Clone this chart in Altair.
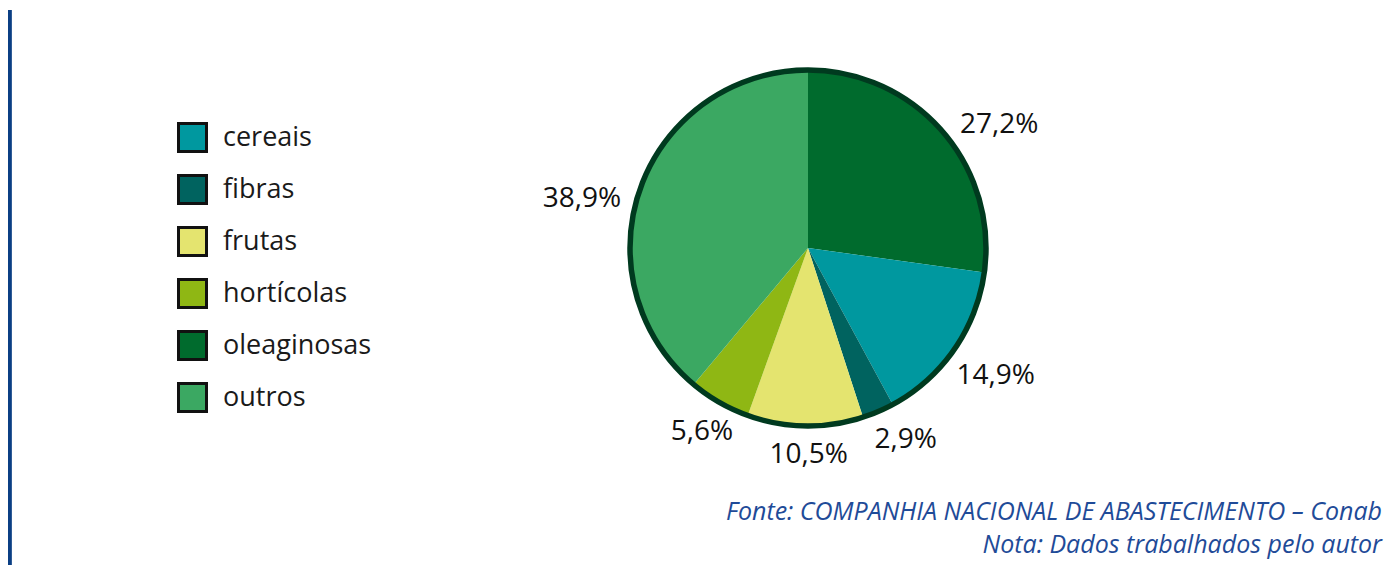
import math
import altair as alt
import pandas as pd

categories = ["oleaginosas", "cereais", "fibras", "frutas", "hortícolas", "outros"]
values = [27.2, 14.9, 2.9, 10.5, 5.6, 38.9]
legend_order = ["cereais", "fibras", "frutas", "hortícolas", "oleaginosas", "outros"]
colors = {"cereais": "#00989f", "fibras": "#00635f", "frutas": "#e4e46f",
          "hortícolas": "#8fb714", "oleaginosas": "#006b2d", "outros": "#3ba862"}
source_lines = ["Fonte: COMPANHIA NACIONAL DE ABASTECIMENTO – Conab",
                "Nota: Dados trabalhados pelo autor"]

labels = [f"{v:.1f}".replace(".", ",") + "%" for v in values]
df = pd.DataFrame({"cat": categories, "value": values, "ord": list(range(len(values))), "label": labels})

W, H = 1381, 557
CX, CY, R = 800, 240, 178
theta_scale = alt.Scale(domain=[0, 100], range=[0, 2 * math.pi])

pie = alt.Chart(df).mark_arc(radius=R, stroke=None).encode(
    x=alt.value(CX), y=alt.value(CY),
    theta=alt.Theta("value:Q", stack=True, scale=theta_scale),
    order=alt.Order("ord:Q"),
    color=alt.Color("cat:N",
                    scale=alt.Scale(domain=legend_order, range=[colors[c] for c in legend_order]),
                    legend=alt.Legend(title=None, orient="none", legendX=169, legendY=114,
                                      symbolType="square", symbolSize=784,
                                      symbolStrokeColor="#111111", symbolStrokeWidth=3,
                                      symbolOpacity=1, labelFont="Open Sans", labelFontSize=27,
                                      labelColor="#1a1a1a", rowPadding=11, labelOffset=15,
                                      padding=0)),
)

outline = alt.Chart(df.head(1)).mark_arc(radius=R, fillOpacity=0, stroke="#003a1f", strokeWidth=5.5).encode(
    x=alt.value(CX), y=alt.value(CY),
    theta=alt.value(0), theta2=alt.value(2 * math.pi),
)

offsets = {"oleaginosas": (29, 18), "cereais": (11, 5), "fibras": (13, -6),
           "frutas": (4, -8), "hortícolas": (1, -2), "outros": (-24, 24)}

base_text = alt.Chart(df).transform_window(
    cum="sum(value)", sort=[alt.SortField("ord", order="ascending")]
).transform_calculate(mid="datum.cum - datum.value / 2")

text_layers = []
for c in categories:
    dx, dy = offsets[c]
    text_layers.append(
        base_text.transform_filter(alt.datum.cat == c).mark_text(
            radius=215, font="Open Sans", fontSize=28, color="#111111",
            dx=dx, dy=dy, baseline="middle", align="center"
        ).encode(
            x=alt.value(CX), y=alt.value(CY),
            theta=alt.Theta("mid:Q", scale=theta_scale, stack=None),
            text="label:N",
        )
    )

bar = alt.Chart(df.head(1)).mark_rule(color="#0b3f84", strokeWidth=4.5).encode(
    x=alt.value(1.6), y=alt.value(2), y2=alt.value(H + 10)
)

src_df = pd.DataFrame({"t": source_lines, "i": [0, 1]})
foot1 = alt.Chart(src_df).transform_filter(alt.datum.i == 0).mark_text(
    font="Open Sans", fontStyle="italic", fontSize=25, color="#1f4b98", align="right", baseline="alphabetic"
).encode(x=alt.value(1374), y=alt.value(512), text="t:N")
foot2 = alt.Chart(src_df).transform_filter(alt.datum.i == 1).mark_text(
    font="Open Sans", fontStyle="italic", fontSize=25, color="#1f4b98", align="right", baseline="alphabetic"
).encode(x=alt.value(1374), y=alt.value(545), text="t:N")

chart = alt.layer(pie, outline, *text_layers, bar, foot1, foot2).properties(
    width=W, height=H, padding=0, autosize=alt.AutoSizeParams(type="none"), background="white"
).configure_view(stroke=None)

chart.save("out.html", embed_options={"renderer": "svg", "actions": False})
